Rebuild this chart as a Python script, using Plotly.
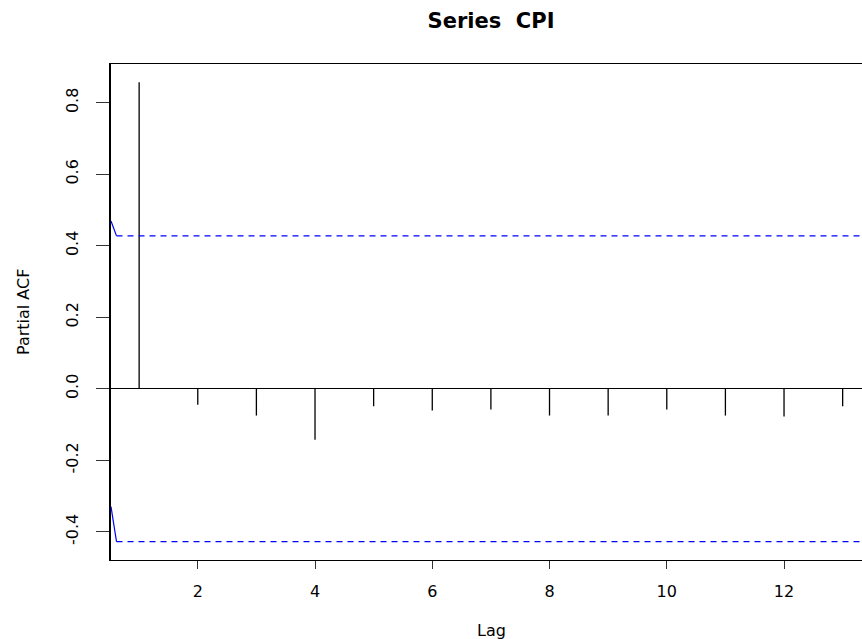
import numpy as np
import plotly.graph_objects as go

# ---- data ----
lags = [1, 2, 3, 4, 5, 6, 7, 8, 9, 10, 11, 12, 13]
pacf = [0.857, -0.045, -0.075, -0.143, -0.049, -0.061, -0.058, -0.075, -0.075, -0.058, -0.075, -0.078, -0.049]
n_obs = 21
x_ticks = [2, 4, 6, 8, 10, 12]
y_ticks = [-0.4, -0.2, 0.0, 0.2, 0.4, 0.6, 0.8]
# short solid blue segments seen at the left edge of the confidence lines
upper_edge_x = [0.52, 0.614]
upper_edge_y = [0.4695, 0.4277]
lower_edge_x = [0.52, 0.614]
lower_edge_y = [-0.33, -0.4277]

clim = 1.96 / np.sqrt(n_obs)
lo = min(-clim, min(pacf))
hi = max(clim, max(pacf))
ext = 0.04 * (hi - lo)
y_range = [lo - ext, hi + ext]
xext = 0.04 * (max(lags) - min(lags))
# R's frame runs slightly past the right edge of the picture
x_range = [min(lags) - xext, 13.33]

FONT = "DejaVu Sans"

fig = go.Figure()

# vertical bars (type='h')
bx, by = [], []
for k, v in zip(lags, pacf):
    bx += [k, k, None]
    by += [0, v, None]
fig.add_trace(go.Scatter(x=bx, y=by, mode="lines",
                         line=dict(color="black", width=1.3),
                         hoverinfo="skip", showlegend=False))

# confidence lines
for sgn in (1, -1):
    fig.add_trace(go.Scatter(x=[upper_edge_x[1], max(lags) + xext], y=[sgn * clim, sgn * clim],
                             mode="lines", line=dict(color="blue", width=1.1, dash="6px,5px"),
                             hoverinfo="skip", showlegend=False))
fig.add_trace(go.Scatter(x=upper_edge_x, y=upper_edge_y, mode="lines",
                         line=dict(color="blue", width=1.2), showlegend=False, hoverinfo="skip"))
fig.add_trace(go.Scatter(x=lower_edge_x, y=lower_edge_y, mode="lines",
                         line=dict(color="blue", width=1.2), showlegend=False, hoverinfo="skip"))

fig.update_layout(
    width=862, height=639,
    margin=dict(l=111, r=0, t=64, b=79),
    paper_bgcolor="white", plot_bgcolor="white",
    font=dict(family=FONT, size=16, color="black"),
    showlegend=False,
    title=dict(text="<b>Series  CPI</b>", x=(491 - 111) / 751, xref="paper", xanchor="center",
               y=1 - 21 / 639, yref="container", yanchor="middle",
               font=dict(family=FONT, size=21, color="black")),
)

fig.update_xaxes(range=x_range, tickvals=x_ticks, ticktext=[str(t) for t in x_ticks],
                 showgrid=False, zeroline=False, showline=True, linecolor="black", linewidth=1.2,
                 mirror=True, ticks="outside", ticklen=8, tickcolor="#333", tickwidth=1.2,
                 ticklabelstandoff=9, tickfont=dict(family=FONT, size=16))
fig.update_yaxes(range=y_range, tickvals=y_ticks, ticktext=[f"{t:.1f}" for t in y_ticks],
                 showgrid=False, zeroline=True, zerolinecolor="black", zerolinewidth=1.2,
                 showline=True, linecolor="black", linewidth=1.5, mirror=False,
                 ticks="outside", ticklen=13, tickcolor="#333", tickwidth=1.2,
                 tickangle=-90, ticklabelstandoff=12, tickfont=dict(family=FONT, size=16))

fig.add_annotation(text="Lag", xref="paper", yref="paper", x=(491 - 111) / 751, y=0,
                   yshift=-70, showarrow=False, xanchor="center", yanchor="middle",
                   font=dict(family=FONT, size=16))
fig.add_annotation(text="Partial ACF", xref="paper", yref="paper", x=0, y=0.5,
                   xshift=-88, textangle=-90, showarrow=False, xanchor="center", yanchor="middle",
                   font=dict(family=FONT, size=16))

fig.write_html("out.html", config={"displayModeBar": False},
               post_script="document.body.style.margin='0';document.body.style.overflow='hidden';")
